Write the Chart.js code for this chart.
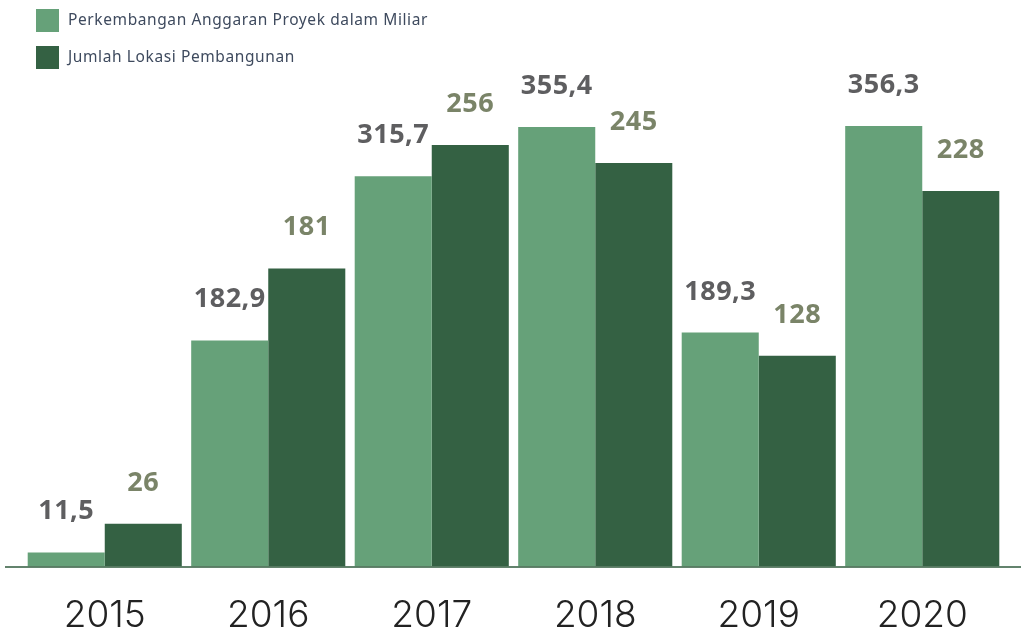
<!DOCTYPE html>
<html>
<head>
<meta charset="utf-8">
<script src="https://cdn.jsdelivr.net/npm/chart.js@4.4.0/dist/chart.umd.min.js"></script>
<style>
  html, body { margin: 0; padding: 0; background: #fff; }
  #wrap { width: 1025px; height: 629px; position: relative; }
</style>
</head>
<body>
<div id="wrap"><canvas id="myChart"></canvas></div>
<script>
const years = ['2015', '2016', '2017', '2018', '2019', '2020'];
const anggaran = [11.5, 182.9, 315.7, 355.4, 189.3, 356.3];
const lokasi = [26, 181, 256, 245, 128, 228];
const labelAnggaran = ['11,5', '182,9', '315,7', '355,4', '189,3', '356,3'];
const labelLokasi = ['26', '181', '256', '245', '128', '228'];
const seriesNames = ['Perkembangan Anggaran Proyek dalam Miliar', 'Jumlah Lokasi Pembangunan'];

const ctx = document.getElementById('myChart').getContext('2d');

// label di atas bar + legenda + garis dasar
const customDraw = {
    id: 'customDraw',
    afterDatasetsDraw(chart) {
        const c = chart.ctx;
        const texts = [labelAnggaran, labelLokasi];
        const colors = ['#5e5e60', '#7a8468'];
        c.save();
        c.font = 'bold 27px "Open Sans", sans-serif';
        c.letterSpacing = '0.5px';
        c.textAlign = 'center';
        c.textBaseline = 'alphabetic';
        chart.data.datasets.forEach((ds, i) => {
            const meta = chart.getDatasetMeta(i);
            meta.data.forEach((bar, j) => {
                c.fillStyle = colors[i];
                c.fillText(texts[i][j], bar.x, bar.y - 33);
            });
        });

        // garis dasar
        const yBase = chart.scales.y.getPixelForValue(0);
        c.strokeStyle = '#2f5a3d';
        c.lineWidth = 1.5;
        c.beginPath();
        c.moveTo(5, yBase + 0.5);
        c.lineTo(1021, yBase + 0.5);
        c.stroke();

        // legenda
        c.textAlign = 'left';
        c.textBaseline = 'middle';
        c.font = '15.5px "Noto Sans", sans-serif';
        c.letterSpacing = '0.6px';
        chart.data.datasets.forEach((ds, i) => {
            const y = 9 + i * 37;
            c.fillStyle = ds.backgroundColor;
            c.fillRect(36, y, 23, 23);
            c.fillStyle = '#3e4a5e';
            c.fillText(ds.label, 68, y + 12);
        });
        c.restore();
    }
};

myChart = new Chart(ctx, {
    type: 'bar',
    data: {
        labels: years,
        datasets: [{
            label: seriesNames[0],
            data: anggaran,
            backgroundColor: '#66a179',
            yAxisID: 'y',
            categoryPercentage: 0.9425,
            barPercentage: 1.0
        }, {
            label: seriesNames[1],
            data: lokasi,
            backgroundColor: '#346143',
            yAxisID: 'y2',
            categoryPercentage: 0.9425,
            barPercentage: 1.0
        }]
    },
    options: {
        responsive: true,
        maintainAspectRatio: false,
        animation: false,
        layout: {
            padding: { top: 80, left: 23, right: 21, bottom: -36 }
        },
        plugins: {
            legend: { display: false },
            tooltip: { enabled: false }
        },
        scales: {
            x: {
                grid: { display: false, drawTicks: false },
                border: { display: false },
                ticks: {
                    padding: 27,
                    color: '#222222',
                    font: { family: 'Inter, "Noto Sans", sans-serif', size: 37, weight: 300 }
                }
            },
            y: {
                display: false,
                min: 0,
                max: 393.5
            },
            y2: {
                display: false,
                min: 0,
                max: 295.4
            }
        }
    },
    plugins: [customDraw]
});
</script>
</body>
</html>
